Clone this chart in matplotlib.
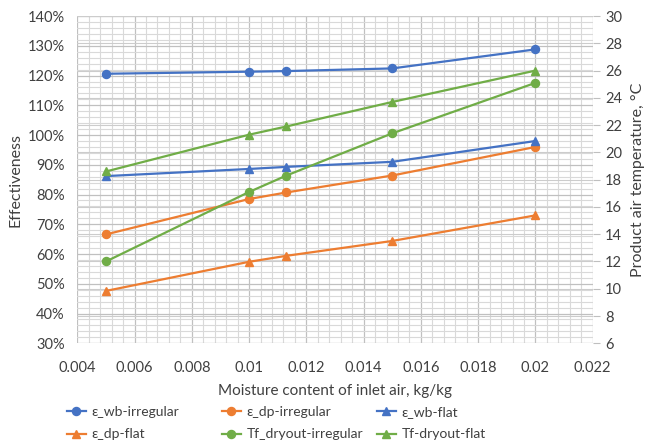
import matplotlib
matplotlib.use("Agg")
import matplotlib.pyplot as plt
from matplotlib.ticker import MultipleLocator, FuncFormatter
from matplotlib.transforms import blended_transform_factory

# Moisture content of inlet air, kg/kg
moisture = [0.005, 0.01, 0.0113, 0.015, 0.02]

# Effectiveness, %
eff_wb_irregular = [120.6, 121.3, 121.5, 122.4, 128.8]
eff_dp_irregular = [66.6, 78.5, 80.7, 86.4, 96.0]
eff_wb_flat = [86.2, 88.6, 89.3, 91.0, 98.0]
eff_dp_flat = [47.6, 57.4, 59.4, 64.4, 73.0]

# Product air temperature, °C
tf_dryout_irregular = [12.0, 17.1, 18.3, 21.4, 25.1]
tf_dryout_flat = [18.6, 21.3, 21.9, 23.7, 26.0]

labels = ["ε_wb-irregular", "ε_dp-irregular", "ε_wb-flat",
          "ε_dp-flat", "Tf_dryout-irregular", "Tf-dryout-flat"]

BLUE, ORANGE, GREEN = "#4472C4", "#ED7D31", "#70AD47"
TEXT = "#404040"
plt.rcParams["font.family"] = ["Lato", "DejaVu Sans"]

fig = plt.figure(figsize=(6.46, 4.46), dpi=100)
ax = fig.add_axes([0.1197, 0.2303, 0.9175 - 0.1197, 0.964 - 0.2303])
ax2 = ax.twinx()

ax.set_xlim(0.004, 0.022)
ax.set_ylim(30, 140)
ax2.set_ylim(6, 30)

# grid
ax.xaxis.set_major_locator(MultipleLocator(0.002))
ax.xaxis.set_minor_locator(MultipleLocator(0.0004))
ax.yaxis.set_major_locator(MultipleLocator(10))
ax.yaxis.set_minor_locator(MultipleLocator(2))
ax2.yaxis.set_major_locator(MultipleLocator(2))
ax.set_axisbelow(True)
ax.grid(which="major", color="#c0c0c0", linewidth=0.9)
ax.grid(which="minor", color="#d9d9d9", linewidth=0.8)
trans = blended_transform_factory(ax.transAxes, ax2.transData)
for t in range(6, 31, 2):
    ax.plot([0, 1], [t, t], transform=trans, color="#cccccc",
            linewidth=0.8, zorder=0.6)

for sp in list(ax.spines.values()) + list(ax2.spines.values()):
    sp.set_visible(False)

kw = dict(linewidth=1.6, markersize=5.8)
h = []
h += ax.plot(moisture, eff_wb_irregular, "-o", color=BLUE, label=labels[0], **kw)
h += ax.plot(moisture, eff_dp_irregular, "-o", color=ORANGE, label=labels[1], **kw)
h += ax.plot(moisture, eff_wb_flat, "-^", color=BLUE, label=labels[2], **kw)
h += ax.plot(moisture, eff_dp_flat, "-^", color=ORANGE, label=labels[3], **kw)
h += ax2.plot(moisture, tf_dryout_irregular, "-o", color=GREEN, label=labels[4], **kw)
h += ax2.plot(moisture, tf_dryout_flat, "-^", color=GREEN, label=labels[5], **kw)

ax.xaxis.set_major_formatter(FuncFormatter(lambda v, p: f"{v:.3f}".rstrip("0")))
ax.yaxis.set_major_formatter(FuncFormatter(lambda v, p: f"{v:.0f}%"))
ax.tick_params(axis="both", which="both", length=0, labelsize=10.5, colors=TEXT)
ax.tick_params(axis="y", pad=9)
ax.tick_params(axis="x", pad=13)
ax2.tick_params(axis="y", which="major", length=5, width=0.8, color="#bfbfbf",
                labelsize=10.5, labelcolor=TEXT, pad=4)
ax2.tick_params(axis="y", which="minor", length=0)

ax.set_xlabel("Moisture content of inlet air, kg/kg", fontsize=11, color=TEXT, labelpad=6)
ax.set_ylabel("Effectiveness", fontsize=11.5, color=TEXT, labelpad=4)
ax2.set_ylabel("Product air temperature, °C", fontsize=11.5, color=TEXT, labelpad=6)

# legend in three columns of two rows
cols = [(h[0], h[3]), (h[1], h[4]), (h[2], h[5])]
xs = [67, 222, 377]
for (a, b), x in zip(cols, xs):
    fig.legend([a, b], [a.get_label(), b.get_label()], loc="upper left",
               bbox_to_anchor=(x / 646, 1 - 406 / 446), frameon=False,
               fontsize=10, handlelength=1.35, handletextpad=0.4,
               labelspacing=0.75, borderaxespad=0, borderpad=0,
               labelcolor=TEXT)

fig.savefig("out.png", dpi=100)
